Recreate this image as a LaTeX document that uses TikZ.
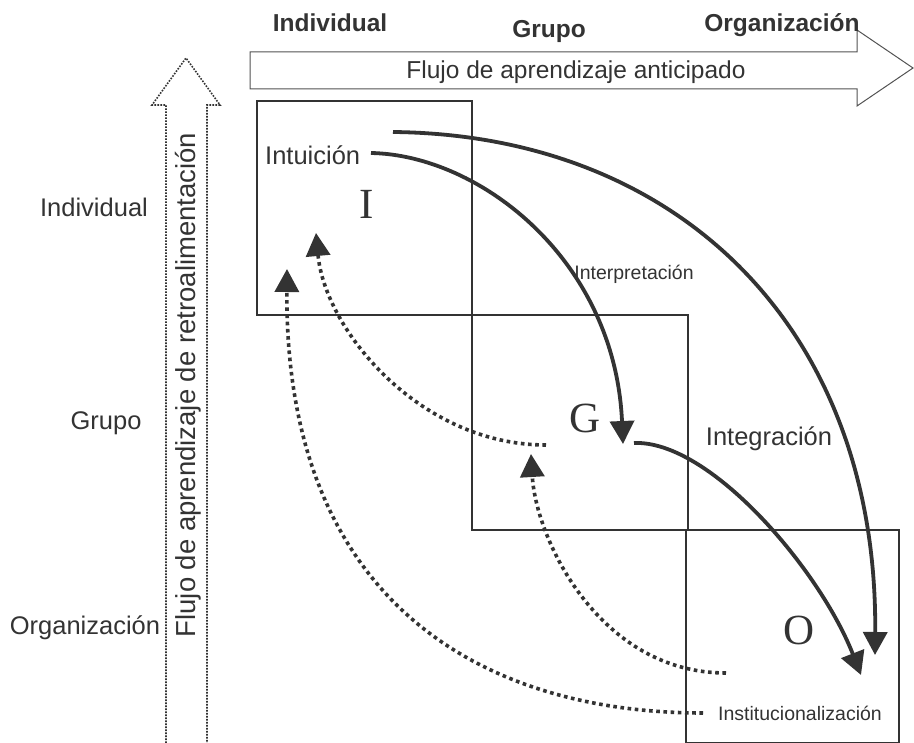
\documentclass[tikz,border=0pt]{standalone}
\usepackage{fontspec}
\setmainfont{Liberation Sans}
\newfontfamily\serifL{Liberation Serif}
\usetikzlibrary{arrows.meta}
\definecolor{dk}{HTML}{333333}
\begin{document}
\begin{tikzpicture}[x=1pt,y=-1pt,
  box/.style={draw=dk,line width=2.4pt,inner sep=0pt,anchor=north west},
  flow/.style={draw=dk,line width=3.8pt,-{Triangle[length=23pt,width=24pt]}},
  fb/.style={draw=dk,line width=3.6pt,dash pattern=on 3.6pt off 3.6pt,-{Triangle[length=23pt,width=24pt]}},
  lbl/.style={inner sep=0pt,text=dk,font=\fontsize{25.5}{30}\selectfont},
  hdr/.style={inner sep=0pt,text=dk,font=\fontsize{24.5}{28}\selectfont\bfseries,anchor=base},
  small/.style={inner sep=0pt,text=dk,font=\fontsize{19.5}{24}\selectfont,anchor=base},
  big/.style={inner sep=0pt,text=dk,font=\fontsize{43}{50}\selectfont\serifL},
  hollow/.style={draw=dk!85,line width=1pt,line join=miter},
  dotline/.style={draw=dk,line width=1.6pt,dash pattern=on 1.6pt off 1.4pt}
]
\useasboundingbox (0,0) rectangle (914,743);

% boxes
\node[box,minimum width=215pt,minimum height=214pt] (BI) at (256,100) {};
\node[box,minimum width=216pt,minimum height=215pt] (BG) at (471,314) {};
\node[box,minimum width=213pt,minimum height=213pt] (BO) at (685,529) {};

% top hollow arrow
\draw[hollow] (250,52) -- (857,52) -- (857,30) -- (913,68) -- (857,106) -- (857,89) -- (250,89) -- cycle;
\node[lbl,anchor=base,font=\fontsize{24.5}{30}\selectfont] (tflow) at (576,79) {Flujo de aprendizaje anticipado};

% top headers
\node[hdr] (hI) at (330,32) {Individual};
\node[hdr] (hG) at (549,38) {Grupo};
\node[hdr] (hO) at (782,32) {Organización};

% left dotted arrow
\draw[dotline] (166,743) -- (166,105) -- (152,105) -- (186,58) -- (220,105) -- (207,105) -- (207,743);
\node[lbl,rotate=90,font=\fontsize{27.5}{32}\selectfont] (lflow) at (188,385) {Flujo de aprendizaje de retroalimentación};

% left labels
\node[lbl,anchor=base] (lI) at (94,217) {Individual};
\node[lbl,anchor=base] (lG) at (106,430) {Grupo};
\node[lbl,anchor=base] (lO) at (85,634) {Organización};

% big letters
\node[big] (LI) at (367,204) {I};
\node[big] (LG) at (585,418) {G};
\node[big] (LO) at (799,630) {O};

% process labels
\node[lbl,anchor=base west] (intu) at (265,165) {Intuición};
\node[small] (interp) at (634,280) {Interpretación};
\node[lbl,anchor=base] (integ) at (769,446) {Integración};
\node[small] (inst) at (800,720) {Institucionalización};

% coordinates
\coordinate (a1s) at (371,153); \coordinate (a1e) at (623,444);
\coordinate (a2s) at (393,132); \coordinate (a2e) at (875,655);
\coordinate (a3s) at (634,443); \coordinate (a3e) at (861,675);
\coordinate (das) at (546,445); \coordinate (dae) at (316,233);
\coordinate (dbs) at (726,673); \coordinate (dbe) at (531,454);
\coordinate (dcs) at (703,713); \coordinate (dce) at (287,269);

% solid arrows
\draw[flow] (a1s) .. controls (480,155) and (615,260) .. (a1e);
\draw[flow] (a2s) .. controls (680,135) and (878,330) .. (a2e);
\draw[flow] (a3s) .. controls (710,440) and (820,570) .. (a3e);

% dotted arrows
\draw[fb] (das) .. controls (420,445) and (325,330) .. (dae);
\draw[fb] (dbs) .. controls (600,673) and (536,540) .. (dbe);
\draw[fb] (dcs) .. controls (480,713) and (285,600) .. (dce);
\end{tikzpicture}
\end{document}
